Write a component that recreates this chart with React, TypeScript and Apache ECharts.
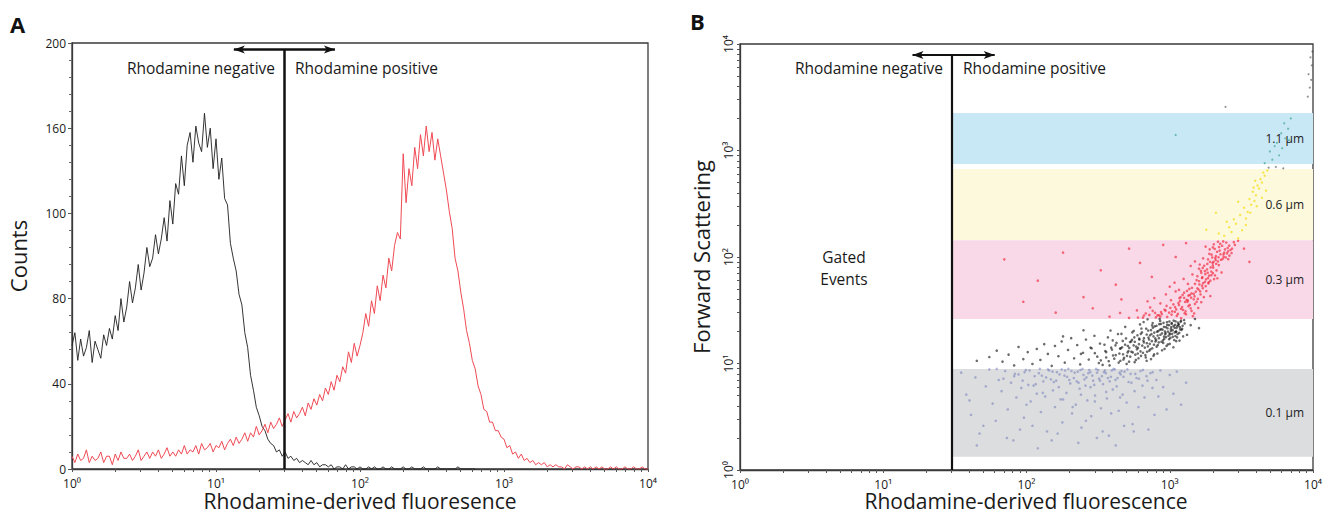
import React, { useEffect, useRef } from 'react';
import * as echarts from 'echarts';

// Panel A: histogram counts per log channel (0.02 decade per channel, 10^0 .. 10^4)
const blackCounts = [
  58, 64, 51, 61, 53, 57, 65, 50, 60, 56, 52, 63, 58, 66, 61, 72, 65, 80, 69, 76,
  88, 78, 85, 96, 84, 92, 104, 95, 99, 110, 101, 108, 118, 107, 126, 115, 134, 129, 147, 133,
  152, 158, 144, 161, 153, 149, 167, 151, 160, 141, 155, 136, 146, 127, 124, 106, 99, 93, 82, 77,
  64, 57, 44, 37, 29, 25, 20, 18, 14, 12, 11, 8, 9, 6, 8, 5, 6, 4, 5, 3,
  4, 3, 2, 4, 2, 3, 1, 2, 2, 1, 2, 0, 1, 1, 0, 2, 0, 1, 1, 0,
  1, 0, 0, 1, 0, 1, 0, 0, 1, 0, 0, 1, 0, 0, 0, 1, 0, 0, 1, 0,
  0, 0, 1, 0, 0, 0, 0, 1, 0, 0, 0, 0, 0, 0, 1, 0, 0, 0, 0, 0, 0
];
const redCounts = [
  6, 3, 7, 4, 5, 9, 3, 6, 4, 5, 8, 3, 6, 6, 2, 7, 4, 8, 5, 5,
  7, 4, 6, 9, 4, 6, 8, 5, 8, 6, 9, 5, 7, 10, 6, 8, 6, 9, 7, 11,
  7, 9, 8, 11, 7, 12, 9, 10, 12, 8, 11, 10, 13, 9, 12, 14, 11, 15, 12, 14,
  17, 13, 17, 15, 20, 16, 18, 21, 17, 22, 19, 21, 24, 20, 23, 26, 22, 27, 24, 26,
  29, 25, 31, 28, 33, 30, 35, 32, 38, 35, 41, 37, 44, 41, 48, 45, 55, 50, 59, 53,
  58, 64, 73, 67, 79, 73, 86, 79, 91, 85, 99, 93, 105, 111, 108, 148, 125, 141, 133, 151,
  141, 157, 147, 161, 149, 158, 145, 155, 147, 139, 131, 121, 113, 99, 93, 83, 75, 65, 59, 51,
  47, 39, 35, 28, 27, 22, 22, 18, 18, 15, 14, 10, 11, 7, 8, 5, 7, 4, 5, 3,
  4, 2, 3, 2, 3, 1, 2, 1, 2, 1, 1, 0, 2, 1, 0, 1, 1, 0, 1, 0,
  1, 0, 1, 0, 1, 0, 0, 1, 0, 1, 0, 0, 1, 0, 0, 1, 0, 0, 1, 0, 0
];
const countTickLabels = ['0', '40', '80', '100', '160', '200'];
const logTickLabels = ['10⁰', '10¹', '10²', '10³', '10⁴'];
const logTicks = [
  1, 2, 3, 4, 5, 6, 7, 8, 9, 10, 20, 30, 40, 50, 60, 70, 80, 90, 100,
  200, 300, 400, 500, 600, 700, 800, 900, 1000, 2000, 3000, 4000, 5000, 6000, 7000, 8000, 9000, 10000
];
const xTitleA = 'Rhodamine-derived fluoresence';
const xTitleB = 'Rhodamine-derived fluorescence';

// gate and arrows
const gateX = 30;
const gateTopA = 197;
const arrowA = [13.3, 67];
const gateTopB = 7890;
const arrowB = [16, 60];

// Panel B: size bands
const bandNames = ['1.1 µm', '0.6 µm', '0.3 µm', '0.1 µm'];
const bandLow = [747, 144, 26.2, 1.33];
const bandHigh = [2250, 670, 144, 8.9];
const bandColors = ['#c9e8f6', '#fdf9dc', '#f9d9e8', '#dcdddf'];

// Panel B: event clouds [fluorescence, forward scatter]
const blueCloud = [
  [35, 8.2], [38, 5.1], [41, 3.3], [44, 7.4], [47, 2.2], [52, 6.1], [55, 8.8], [58, 4.2], [61, 2.9], [64, 7.0],
  [67, 5.5], [71, 8.5], [74, 3.7], [78, 6.6], [81, 1.9], [85, 4.8], [88, 7.9], [92, 5.9], [96, 3.1], [99, 8.7],
  [103, 6.3], [107, 4.4], [110, 2.6], [114, 7.6], [118, 5.2], [122, 8.1], [126, 3.5], [131, 6.8], [135, 4.9], [139, 2.3],
  [144, 8.6], [148, 7.1], [153, 5.6], [158, 3.9], [163, 8.3], [168, 6.0], [173, 4.6], [178, 2.8], [184, 7.7], [190, 5.3],
  [196, 8.9], [202, 6.5], [208, 3.4], [214, 7.3], [221, 4.1], [228, 8.4], [235, 5.8], [242, 2.5], [250, 7.8], [258, 6.2],
  [266, 4.5], [274, 8.7], [283, 3.2], [292, 6.9], [301, 5.0], [311, 8.2], [321, 7.2], [331, 3.8], [342, 6.4], [353, 8.6],
  [364, 4.7], [376, 2.1], [388, 7.5], [400, 5.7], [413, 8.8], [426, 6.1], [440, 3.6], [454, 7.9], [469, 5.1], [484, 8.4],
  [500, 4.3], [516, 6.7], [533, 8.0], [550, 2.7], [568, 5.5], [586, 7.3], [605, 3.9], [625, 8.5], [645, 6.2], [666, 4.8],
  [688, 7.6], [710, 2.4], [733, 8.1], [757, 5.9], [782, 3.3], [807, 7.0], [833, 4.9], [860, 8.6], [900, 6.0], [950, 3.7],
  [1000, 7.8], [1060, 5.2], [1120, 8.4], [1200, 4.1], [1300, 6.6],
  [62, 8.9], [69, 7.2], [83, 8.0], [94, 6.9], [105, 8.6], [116, 6.4], [128, 7.7], [141, 8.8], [155, 6.7], [170, 7.9],
  [186, 8.6], [199, 7.0], [217, 8.2], [231, 6.6], [246, 8.9], [262, 7.4], [279, 8.3], [297, 6.3], [316, 8.7], [336, 7.6],
  [358, 8.1], [381, 6.8], [405, 8.9], [432, 7.3], [461, 8.5],
  [45, 1.7], [73, 2.0], [120, 1.6], [165, 2.2], [230, 1.8], [310, 2.0], [420, 1.7], [560, 2.3], [40, 4.5], [50, 2.6],
  [90, 2.4], [150, 1.9], [260, 2.9], [340, 2.3], [480, 2.6]
];
const blueCore = [
  [82, 7.6], [97, 8.3], [112, 6.2], [124, 8.9], [137, 7.4], [152, 8.4], [161, 6.9], [176, 8.8], [192, 7.5], [206, 8.5],
  [224, 6.8], [238, 8.7], [254, 7.1], [270, 8.1], [288, 7.7], [306, 8.9], [326, 6.9], [347, 8.3], [370, 7.3], [394, 8.6],
  [418, 7.0], [446, 8.2], [475, 7.5], [506, 8.8], [540, 6.6], [575, 8.0], [610, 7.2], [650, 8.7], [700, 6.9], [760, 8.3],
  [130, 5.3], [180, 4.6], [240, 5.1], [300, 4.4], [360, 5.4], [450, 4.8], [100, 4.1], [210, 3.9], [280, 6.0], [390, 3.4]
];
const blackCloud = [
  [55, 11.5], [62, 13.2], [68, 10.4], [75, 12.1], [82, 9.6], [88, 14.3], [95, 11.0], [102, 12.8], [110, 9.9], [118, 13.7],
  [125, 10.8], [133, 15.2], [141, 12.3], [150, 9.5], [158, 14.6], [167, 11.7], [176, 16.1], [185, 10.2], [195, 13.4], [205, 17.3],
  [215, 11.2], [226, 14.9], [237, 9.8], [248, 12.6], [260, 16.8], [272, 10.9], [285, 13.9], [298, 18.2], [312, 11.6], [326, 15.4],
  [340, 9.7], [355, 13.1], [370, 17.6], [386, 20.4], [402, 11.9], [418, 14.8], [435, 18.9], [452, 10.6], [470, 16.3], [489, 22.1],
  [508, 12.7], [528, 15.9], [548, 19.6], [569, 10.3], [590, 13.6], [612, 17.1], [634, 21.3], [657, 24.5], [680, 11.4], [704, 14.5],
  [728, 18.4], [753, 22.8], [778, 12.2], [804, 16.6], [830, 20.1], [857, 25.1], [884, 13.3], [912, 17.9], [940, 21.9], [969, 15.1],
  [998, 19.2], [1030, 23.6], [1060, 14.2], [1095, 18.1], [1130, 22.4], [1170, 16.4], [1210, 20.7], [1260, 25.6], [1320, 18.6], [1400, 22.9],
  [300, 12.5], [330, 10.7], [360, 11.4], [390, 14.1], [420, 12.0], [450, 13.8], [480, 11.3], [510, 14.6], [540, 12.9], [570, 16.0],
  [600, 14.0], [630, 11.8], [660, 15.8], [690, 18.7], [720, 13.2], [750, 16.2], [780, 19.5], [810, 14.4], [840, 17.3], [870, 21.0],
  [900, 15.6], [930, 18.8], [960, 23.0], [990, 16.9], [1020, 20.3], [1050, 17.8], [1080, 21.7], [1110, 19.8], [1140, 24.2], [1180, 20.9],
  [560, 20.2], [620, 23.3], [700, 26.0], [760, 24.0], [850, 26.3], [320, 10.1], [380, 9.6], [440, 10.2], [500, 9.9], [580, 10.8],
  [650, 12.6], [740, 11.0], [820, 12.4], [920, 13.7], [1000, 15.3], [460, 19.0], [400, 16.5], [350, 15.0], [280, 14.1], [240, 12.3],
  [1500, 26.2], [1600, 21.5], [45, 10.6], [250, 20.5], [180, 18.0]
];
const blackCore = [
  [360, 12.8], [375, 10.5], [395, 13.5], [410, 11.1], [425, 15.6], [445, 12.4], [465, 14.2], [475, 10.9], [495, 17.2], [515, 13.1],
  [530, 11.6], [545, 16.7], [560, 14.8], [575, 12.1], [595, 18.4], [610, 15.2], [625, 13.0], [640, 19.6], [655, 16.4], [670, 14.1],
  [685, 21.2], [695, 12.9], [710, 17.5], [725, 15.3], [740, 20.6], [755, 13.9], [770, 18.0], [785, 22.3], [795, 16.1], [815, 19.9],
  [825, 14.9], [845, 23.4], [860, 18.6], [875, 16.0], [890, 20.8], [905, 24.1], [915, 17.0], [935, 19.3], [950, 14.6], [965, 21.4],
  [980, 18.2], [995, 24.8], [1010, 17.4], [1025, 22.0], [1040, 19.0], [1065, 25.3], [1075, 16.6], [1090, 23.1], [1105, 20.0], [1125, 17.6],
  [1150, 22.9], [1165, 19.4], [1190, 24.6], [1220, 21.2], [1240, 18.0], [1270, 23.8], [520, 10.4], [605, 11.2], [690, 10.6], [770, 11.8]
];
const blackDense = [
  [455, 13.9], [472, 12.2], [488, 15.0], [503, 11.8], [522, 14.0], [538, 16.1], [552, 12.7], [566, 17.6], [583, 14.4], [598, 12.4],
  [614, 16.8], [628, 19.0], [643, 14.7], [661, 17.3], [676, 12.0], [692, 15.5], [707, 20.4], [718, 16.8], [733, 13.6], [746, 18.9],
  [762, 21.7], [776, 15.0], [792, 17.2], [808, 22.6], [823, 18.3], [838, 15.8], [852, 20.7], [868, 23.5], [883, 19.2], [897, 16.5],
  [911, 22.1], [926, 20.0], [942, 17.7], [957, 24.4], [972, 19.9], [988, 22.9], [1004, 18.8], [1018, 21.1], [1034, 24.0], [1048, 20.6],
  [1063, 22.5], [1082, 19.6], [1098, 24.9], [1115, 21.6], [1135, 18.9], [1155, 23.4], [1175, 21.9], [1200, 25.2], [1230, 22.6], [1110, 16.2]
];
const redCloud = [
  [380, 27.5], [450, 29.8], [520, 26.8], [590, 31.5], [660, 28.2], [730, 33.6], [800, 27.1], [870, 30.4], [950, 34.8], [1030, 28.8],
  [1110, 32.2], [1200, 26.6], [1290, 30.9], [1380, 35.5], [1480, 29.5], [700, 38.4], [780, 41.2], [860, 36.7], [940, 44.6], [1020, 39.3],
  [1100, 47.5], [1190, 42.1], [1280, 37.8], [1370, 50.2], [1470, 45.0], [1570, 40.4], [1680, 53.8], [1800, 47.9], [1920, 43.0], [1000, 52.6],
  [1080, 57.4], [1160, 49.1], [1250, 62.3], [1340, 55.9], [1440, 68.5], [1540, 60.7], [1650, 74.2], [1760, 58.3], [1880, 66.8], [2010, 79.5],
  [2150, 63.1], [2300, 71.6], [1400, 82.4], [1500, 90.8], [1600, 77.7], [1710, 97.3], [1830, 86.1], [1960, 105.2], [2090, 93.6], [2230, 114.8],
  [2380, 100.4], [2540, 121.5], [2700, 108.9], [1780, 125.3], [1900, 118.0], [2030, 131.6], [2170, 139.2], [2320, 127.4], [2480, 136.7], [2650, 116.2],
  [2850, 130.1], [3000, 142.0],
  [600, 27.0], [680, 29.5], [760, 31.2], [840, 28.4], [920, 32.0], [990, 30.0], [1060, 35.9], [1140, 29.2], [1220, 33.9], [1310, 39.6],
  [1150, 37.0], [1230, 44.0], [1320, 48.0], [1410, 41.5], [1500, 56.0], [1590, 49.5], [1680, 63.5], [1770, 69.0], [1860, 56.5], [1950, 73.0],
  [1620, 85.0], [1700, 79.0], [1850, 95.0], [1990, 88.0], [2100, 102.0], [2200, 84.0], [2400, 110.0], [2560, 95.5], [2000, 123.0], [2250, 133.0],
  [70, 95.0], [120, 60.0], [180, 110.0], [250, 42.0], [330, 75.0], [420, 55.0], [520, 120.0], [620, 88.0], [750, 65.0], [900, 130.0],
  [95, 38.0], [160, 30.0], [290, 33.0], [460, 40.0], [1100, 100.0], [3300, 120.0], [3600, 90.0], [1300, 135.0]
];
const redCore = [
  [650, 26.9], [720, 28.6], [790, 29.9], [860, 27.6], [935, 31.4], [1010, 33.2], [1085, 30.6], [1160, 35.4], [1240, 31.8], [1330, 37.9],
  [1400, 33.0], [1470, 40.1], [1170, 41.0], [1260, 46.2], [1350, 43.4], [1430, 51.4], [1520, 47.2], [1610, 55.2], [1700, 51.0], [1790, 61.7],
  [1870, 58.0], [1950, 67.5], [2040, 62.0], [2120, 74.8], [1560, 66.0], [1660, 71.0], [1740, 82.8], [1820, 76.5], [1910, 90.2], [2000, 83.5],
  [2080, 97.5], [2170, 91.0], [2260, 106.0], [2340, 96.0], [2430, 118.0], [2510, 108.0], [2600, 128.0], [2720, 120.0], [2800, 138.0], [2140, 112.0],
  [2210, 124.0], [2360, 140.0], [2610, 103.0], [1980, 99.0], [2060, 119.0], [1890, 107.0], [1300, 29.0], [1380, 44.0], [1540, 38.0], [1640, 44.5]
];
const redDense = [
  [820, 28.3], [880, 29.1], [960, 27.4], [1040, 30.9], [1120, 28.0], [1200, 32.6], [1270, 29.6], [1350, 34.6], [1420, 31.2], [1500, 36.2],
  [1090, 33.8], [1180, 38.6], [1260, 41.4], [1340, 39.2], [1420, 45.6], [1490, 42.7], [1560, 50.8], [1630, 47.6], [1710, 56.7], [1780, 53.2],
  [1850, 63.4], [1920, 60.0], [2000, 70.6], [2070, 67.2], [1600, 59.2], [1690, 64.7], [1760, 73.6], [1840, 71.2], [1930, 79.8], [2020, 90.1],
  [2110, 86.4], [2190, 99.4], [2280, 94.2], [2370, 105.6], [2460, 99.0], [2550, 113.0], [1580, 33.2], [1660, 37.6], [1450, 27.8], [1730, 42.0]
];
const yellowCloud = [
  [2400, 158], [2700, 172], [3000, 150], [2600, 190], [2900, 205], [3200, 178], [3400, 230], [3100, 248], [2800, 226], [3500, 265],
  [3300, 290], [3700, 310], [3600, 350], [3900, 335], [4000, 380], [3800, 410], [4200, 440], [4100, 470], [4400, 500], [4300, 540],
  [4600, 580], [4500, 620], [4800, 650], [3950, 520], [3400, 200], [3650, 260], [4050, 300], [2500, 214], [2200, 166], [3850, 450],
  [4700, 420], [3000, 330], [4400, 360], [1800, 180], [2100, 260]
];
const greenCloud = [
  [4600, 760], [5200, 820], [5800, 900], [5000, 980], [6100, 1050], [5600, 1180], [6400, 1300], [6000, 1450], [6700, 1600],
  [6300, 1800], [7000, 2000], [5400, 1100], [6800, 1250], [1100, 1400]
];
const strayDots = [
  [4900, 690], [5500, 700], [6200, 680], [9200, 3200], [9500, 3900], [9700, 4600], [9300, 5200], [9800, 6300],
  [9600, 7500], [9900, 8500], [2450, 2570]
];

const FONT = 'Open Sans';
const logLabel = (v: number) => logTickLabels[Math.round(Math.log10(v))] ?? '';

function logAxis(gridIndex: number, extra: any = {}) {
  return {
    type: 'log',
    gridIndex,
    logBase: 10,
    min: 1,
    max: 10000,
    interval: 1,
    axisLine: { show: true, lineStyle: { color: '#3a3a3a', width: 1.3 } },
    axisTick: { show: true, customValues: logTicks, length: 3, lineStyle: { color: '#555', width: 1 } },
    minorTick: { show: false },
    splitLine: { show: false },
    ...extra,
  };
}

export default function App() {
  const ref = useRef<HTMLDivElement>(null);
  useEffect(() => {
    if (!ref.current) return;
    const chart = echarts.init(ref.current, null, { renderer: 'svg' });
    const channels = redCounts.map((_, i) => String(i));
    const scatterBase = (name: string, data: number[][], color: string, size: number) => ({
      name,
      type: 'scatter',
      xAxisIndex: 2,
      yAxisIndex: 1,
      data,
      symbolSize: size,
      itemStyle: { color },
      silent: true,
      z: 3,
    });
    const arrowLine = (x0: number, x1: number, y: number) => [
      { coord: [x0, y] },
      { coord: [x1, y] },
    ];
    chart.setOption({
      animation: false,
      backgroundColor: '#ffffff',
      textStyle: { fontFamily: FONT },
      grid: [
        { left: 72, top: 43, width: 576, height: 426, show: true, borderColor: '#3a3a3a', borderWidth: 1.3, containLabel: false, outerBoundsMode: 'none' },
        { left: 740, top: 44, width: 573, height: 426, show: true, borderColor: '#3a3a3a', borderWidth: 1.3, containLabel: false, outerBoundsMode: 'none' },
      ],
      xAxis: [
        { type: 'category', gridIndex: 0, data: channels, boundaryGap: false, show: false, position: 'top' },
        logAxis(0, {
          position: 'bottom',
          axisLabel: { formatter: logLabel, fontSize: 12, color: '#1a1a1a', margin: 8, fontFamily: FONT },
        }),
        logAxis(1, {
          position: 'bottom',
          axisLabel: { formatter: logLabel, fontSize: 12, color: '#1a1a1a', margin: 8, fontFamily: FONT },
        }),
      ],
      yAxis: [
        {
          type: 'value',
          gridIndex: 0,
          min: 0,
          max: 200,
          interval: 40,
          name: 'Counts',
          nameLocation: 'middle',
          nameGap: 43,
          nameTextStyle: { fontSize: 22, color: '#1a1a1a', fontFamily: FONT },
          axisLine: { show: true, lineStyle: { color: '#3a3a3a', width: 1.3 } },
          axisTick: { show: true, length: 4, lineStyle: { color: '#555' } },
          minorTick: { show: true, splitNumber: 5, length: 3, lineStyle: { color: '#666' } },
          axisLabel: {
            formatter: (v: number) => countTickLabels[Math.round(v / 40)],
            fontSize: 12,
            color: '#1a1a1a',
            margin: 6,
            fontFamily: FONT,
          },
          splitLine: { show: false },
        },
        logAxis(1, {
          name: 'Forward Scattering',
          nameLocation: 'middle',
          nameGap: 28,
          nameTextStyle: { fontSize: 22, color: '#1a1a1a', fontFamily: FONT },
          axisLabel: { formatter: logLabel, fontSize: 12, color: '#1a1a1a', margin: 6, rotate: 90, fontFamily: FONT },
        }),
      ],
      series: [
        {
          name: 'Rhodamine negative control',
          type: 'line',
          xAxisIndex: 0,
          yAxisIndex: 0,
          data: blackCounts,
          showSymbol: false,
          symbol: 'none',
          lineStyle: { color: '#1e1e1e', width: 0.9 },
          silent: true,
          z: 3,
        },
        {
          name: 'Rhodamine stained',
          type: 'line',
          xAxisIndex: 0,
          yAxisIndex: 0,
          data: redCounts,
          showSymbol: false,
          symbol: 'none',
          lineStyle: { color: '#ef4a54', width: 1 },
          silent: true,
          z: 4,
        },
        {
          name: 'gateA',
          type: 'scatter',
          xAxisIndex: 1,
          yAxisIndex: 0,
          data: [],
          silent: true,
          z: 5,
          markLine: {
            silent: true,
            animation: false,
            label: { show: false },
            data: [
              [
                { coord: [gateX, 0], symbol: 'none' },
                { coord: [gateX, gateTopA], symbol: 'none' },
              ],
              arrowLine(arrowA[0], arrowA[1], gateTopA),
            ],
            symbol: ['arrow', 'arrow'],
            symbolSize: [6, 11],
            lineStyle: { color: '#111', width: 2.5, type: 'solid' },
          },
        },
        {
          name: 'bands',
          type: 'scatter',
          xAxisIndex: 2,
          yAxisIndex: 1,
          data: [],
          silent: true,
          z: 1,
          markArea: {
            silent: true,
            data: bandNames.map((n, i) => [
              {
                name: n,
                coord: [gateX, bandLow[i]],
                itemStyle: { color: bandColors[i] },
              },
              { coord: [10000, bandHigh[i]] },
            ]),
            label: {
              show: true,
              position: 'insideRight',
              distance: 9,
              color: '#222',
              fontSize: 12,
              fontFamily: FONT,
            },
          },
        },
        scatterBase('0.1 µm events', blueCloud.concat(blueCore), 'rgba(80,92,176,0.5)', 2.6),
        scatterBase('unsized events', blackCloud.concat(blackCore, blackDense), 'rgba(10,10,10,0.75)', 2.6),
        scatterBase('0.3 µm events', redCloud.concat(redCore, redDense), 'rgba(240,20,40,0.75)', 2.6),
        scatterBase('0.6 µm events', yellowCloud, 'rgba(245,220,20,0.9)', 2.4),
        scatterBase('1.1 µm events', greenCloud, 'rgba(50,160,130,0.8)', 2.2),
        scatterBase('stray events', strayDots, 'rgba(60,60,60,0.7)', 2),
        {
          name: 'gateB',
          type: 'scatter',
          xAxisIndex: 2,
          yAxisIndex: 1,
          data: [],
          silent: true,
          z: 5,
          markLine: {
            silent: true,
            animation: false,
            label: { show: false },
            data: [
              [
                { coord: [gateX, 1], symbol: 'none' },
                { coord: [gateX, gateTopB], symbol: 'none' },
              ],
              arrowLine(arrowB[0], arrowB[1], gateTopB),
            ],
            symbol: ['arrow', 'arrow'],
            symbolSize: [6, 11],
            lineStyle: { color: '#111', width: 2.2, type: 'solid' },
          },
        },
      ],
      graphic: [
        { type: 'text', left: 10, top: 13, style: { text: 'A', fontSize: 22, fontWeight: 'bold', fontFamily: FONT, fill: '#111' } },
        { type: 'text', left: 690, top: 10, style: { text: 'B', fontSize: 22, fontWeight: 'bold', fontFamily: FONT, fill: '#111' } },
        { type: 'text', x: 275, y: 68, style: { text: 'Rhodamine negative', fontSize: 15.5, fontFamily: FONT, fill: '#1a1a1a', align: 'right', verticalAlign: 'middle' } },
        { type: 'text', x: 295, y: 68, style: { text: 'Rhodamine positive', fontSize: 15.5, fontFamily: FONT, fill: '#1a1a1a', align: 'left', verticalAlign: 'middle' } },
        { type: 'text', x: 943, y: 68, style: { text: 'Rhodamine negative', fontSize: 15.5, fontFamily: FONT, fill: '#1a1a1a', align: 'right', verticalAlign: 'middle' } },
        { type: 'text', x: 963, y: 68, style: { text: 'Rhodamine positive', fontSize: 15.5, fontFamily: FONT, fill: '#1a1a1a', align: 'left', verticalAlign: 'middle' } },
        { type: 'text', x: 844, y: 268, style: { text: 'Gated\nEvents', fontSize: 15.5, lineHeight: 22, fontFamily: FONT, fill: '#1a1a1a', align: 'center', verticalAlign: 'middle' } },
        { type: 'text', x: 360, y: 501, style: { text: xTitleA, fontSize: 21, lineHeight: 22, fontFamily: FONT, fill: '#1a1a1a', align: 'center', verticalAlign: 'middle' } },
        { type: 'text', x: 1026, y: 501, style: { text: xTitleB, fontSize: 21, lineHeight: 22, fontFamily: FONT, fill: '#1a1a1a', align: 'center', verticalAlign: 'middle' } },
      ],
    });
    return () => chart.dispose();
  }, []);
  return (
    <div
      ref={ref}
      style={{ position: 'fixed', left: 0, top: 0, width: 1324, height: 518, background: '#fff' }}
    />
  );
}
